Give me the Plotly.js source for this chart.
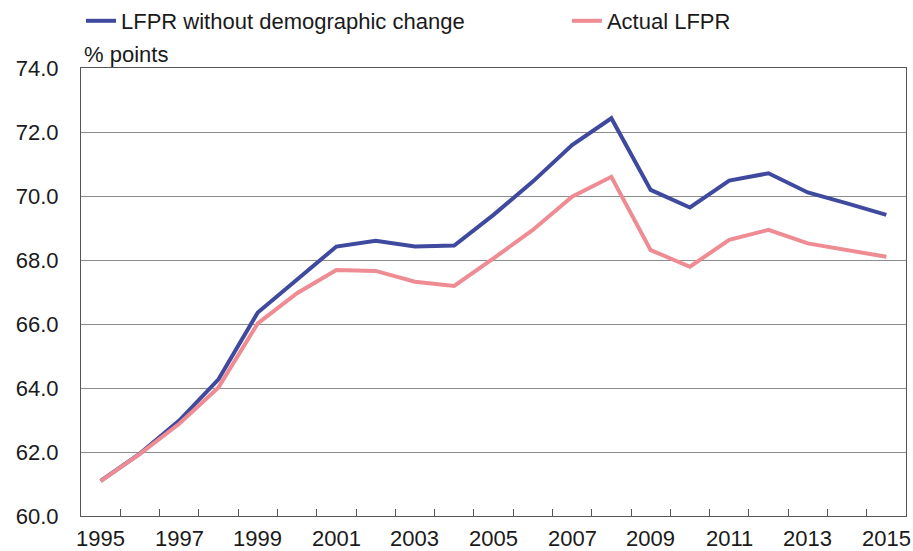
<!DOCTYPE html>
<html>
<head>
<meta charset="utf-8">
<script src="https://cdn.plot.ly/plotly-3.0.1.min.js"></script>
<style>html,body{margin:0;padding:0;background:#fff;}#chart{width:913px;height:551px;}</style>
</head>
<body>
<div id="chart"></div>
<script>
const years = [1995,1996,1997,1998,1999,2000,2001,2002,2003,2004,2005,2006,2007,2008,2009,2010,2011,2012,2013,2014,2015];
const lfprNoDemo = [61.1,61.95,62.98,64.27,66.36,67.38,68.42,68.6,68.42,68.45,69.41,70.45,71.59,72.43,70.19,69.64,70.48,70.71,70.11,69.77,69.41];
const lfprActual = [61.09,61.94,62.88,64.02,66.02,66.96,67.69,67.66,67.32,67.19,68.05,68.94,69.98,70.6,68.31,67.79,68.63,68.94,68.52,68.31,68.1];
const xTickLabels = ['1995','1997','1999','2001','2003','2005','2007','2009','2011','2013','2015'];
const seriesNames = ['LFPR without demographic change','Actual LFPR'];
const unitLabel = '% points';

const font = 'Liberation Sans, Arial, sans-serif';
const boundaries = years.slice(0, -1).map(y => y + 0.5);
const xRange = [years[0] - 0.5, years[years.length - 1] + 0.5];

const traces = [
  {x: years, y: lfprNoDemo, name: seriesNames[0], type: 'scatter', mode: 'lines',
   line: {color: '#3f4a9f', width: 4}, legend: 'legend'},
  {x: years, y: lfprActual, name: seriesNames[1], type: 'scatter', mode: 'lines',
   line: {color: '#ee8b93', width: 4}, legend: 'legend2'}
];

const legendBase = {orientation: 'h', xanchor: 'left', y: 1.0, yref: 'container', yanchor: 'top',
                    font: {family: font, size: 22, color: '#1a1a1a'}, bgcolor: 'rgba(0,0,0,0)'};

const yearAnnotations = xTickLabels.map(lbl => ({
  text: lbl, xref: 'x', yref: 'paper', x: Number(lbl), y: 0, xanchor: 'center', yanchor: 'top',
  yshift: -8, showarrow: false, font: {family: font, size: 22, color: '#1a1a1a'}
}));

const layout = {
  width: 913, height: 551,
  margin: {l: 81, r: 7, t: 68, b: 35, pad: 0},
  paper_bgcolor: '#fff', plot_bgcolor: '#fff',
  font: {family: font, size: 22, color: '#1a1a1a'},
  showlegend: true,
  legend: Object.assign({}, legendBase, {x: 0}),
  legend2: Object.assign({}, legendBase, {x: 0.589}),
  xaxis: {range: xRange, tickmode: 'array', tickvals: boundaries, ticktext: boundaries.map(() => ''),
          ticks: 'inside', ticklen: 7, tickwidth: 1, tickcolor: '#555', showticklabels: false,
          showgrid: false, zeroline: false, showline: true, linecolor: '#555', linewidth: 1,
          mirror: true},
  yaxis: {range: [60, 74], tickmode: 'linear', tick0: 60, dtick: 2, tickformat: '.1f',
          ticks: '', showgrid: true, gridcolor: '#8c8c8c', gridwidth: 1, zeroline: false,
          showline: true, linecolor: '#555', linewidth: 1, mirror: true, tickfont: {size: 22},
          ticklabelstandoff: 17},
  annotations: [
    {text: unitLabel, xref: 'paper', yref: 'paper', x: 0, y: 1, xanchor: 'left', yanchor: 'bottom',
     xshift: 1, yshift: -1, showarrow: false, font: {family: font, size: 22, color: '#1a1a1a'}}
  ].concat(yearAnnotations)
};

Plotly.newPlot('chart', traces, layout, {staticPlot: true, displayModeBar: false});
</script>
</body>
</html>
